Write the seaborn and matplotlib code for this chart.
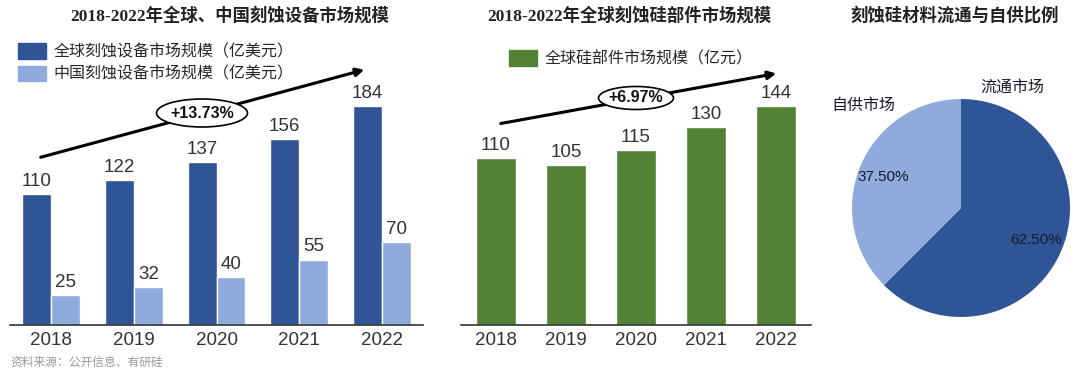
import seaborn as sns
import matplotlib.pyplot as plt
from matplotlib.patches import Ellipse, Patch
import pandas as pd

years = ["2018", "2019", "2020", "2021", "2022"]
global_equip = [110, 122, 137, 156, 184]
china_equip = [25, 32, 40, 55, 70]
silicon_parts = [110, 105, 115, 130, 144]
pie_labels = ["流通市场", "自供市场"]
pie_values = [62.5, 37.5]

title1 = "2018-2022年全球、中国刻蚀设备市场规模"
title2 = "2018-2022年全球刻蚀硅部件市场规模"
title3 = "刻蚀硅材料流通与自供比例"
legend1 = ["全球刻蚀设备市场规模（亿美元）", "中国刻蚀设备市场规模（亿美元）"]
legend2 = "全球硅部件市场规模（亿元）"
cagr1 = "+13.73%"
cagr2 = "+6.97%"
source = "资料来源：公开信息、有研硅"

DARK = "#2F5597"
LIGHT = "#8FAADC"
GREEN = "#548235"

sns.set_theme(style="white")
plt.rcParams['font.family'] = ['Liberation Sans', 'Noto Sans CJK SC', 'DejaVu Sans']
serif = ['Liberation Serif', 'Noto Sans CJK SC']
cjk = ['Noto Sans CJK SC', 'DejaVu Sans']

W, H = 1080, 374
fig = plt.figure(figsize=(W / 100, H / 100), dpi=100)


def px_axes(x0, y_top, w, h):
    return fig.add_axes([x0 / W, (H - y_top - h) / H, w / W, h / H])


def style_bar_axes(ax):
    for s in ["top", "right", "left"]:
        ax.spines[s].set_visible(False)
    ax.spines["bottom"].set_color("#333333")
    ax.spines["bottom"].set_linewidth(1.2)
    ax.set_yticks([])
    ax.set_xlabel("")
    ax.set_ylabel("")
    ax.tick_params(axis="x", length=0, labelsize=13.5, colors="#333333", pad=5)


# ---- left chart
df1 = pd.DataFrame({
    "year": years * 2,
    "value": global_equip + china_equip,
    "series": [legend1[0]] * 5 + [legend1[1]] * 5,
})
ax1 = px_axes(10, 50, 413, 275)
sns.barplot(data=df1, x="year", y="value", hue="series", palette=[DARK, LIGHT],
            width=0.7, ax=ax1, legend=False, saturation=1)
ax1.set_xlim(-0.5, 4.5)
ax1.set_ylim(0, 231)
style_bar_axes(ax1)
for c in ax1.containers:
    ax1.bar_label(c, padding=3, fontsize=13.5, color="#333333")

# ---- middle chart
df2 = pd.DataFrame({"year": years, "value": silicon_parts})
ax2 = px_axes(461, 50, 350, 275)
sns.barplot(data=df2, x="year", y="value", color=GREEN, width=0.57, ax=ax2,
            saturation=1)
ax2.set_xlim(-0.5, 4.5)
ax2.set_ylim(0, 181)
style_bar_axes(ax2)
for c in ax2.containers:
    ax2.bar_label(c, padding=3, fontsize=13.5, color="#333333")

# ---- pie
ax3 = px_axes(852, 99, 218, 218)
wedges, texts, autotexts = ax3.pie(pie_values, labels=pie_labels, colors=[DARK, LIGHT],
                                   startangle=90, counterclock=False,
                                   autopct=lambda p: f"{p:.2f}%",
                                   wedgeprops=dict(linewidth=0),
                                   textprops=dict(fontsize=11, color="#1a1a2a"))
for t in texts:
    t.set_fontfamily(cjk)
    t.set_fontsize(11.5)
    t.set_ha("center")
    t.set_va("center")
texts[0].set_position((0.47, 1.11))
texts[1].set_position((-0.90, 0.94))
autotexts[0].set_position((0.69, -0.29))
autotexts[1].set_position((-0.71, 0.28))
ax3.set_xlim(-1, 1)
ax3.set_ylim(-1, 1)
ax3.set_aspect("equal")

# ---- titles
fig.text(230 / W, 1 - 16 / H, title1, ha="center", va="center", fontsize=12.5,
         fontweight="bold", family=serif, color="#222222")
fig.text(629 / W, 1 - 16 / H, title2, ha="center", va="center", fontsize=12.5,
         fontweight="bold", family=serif, color="#222222")
fig.text(955 / W, 1 - 16 / H, title3, ha="center", va="center", fontsize=12.5,
         fontweight="bold", family=cjk, color="#222222")

# ---- legends
ax1.legend(handles=[Patch(color=DARK), Patch(color=LIGHT)], labels=legend1,
           loc="upper left", bbox_to_anchor=(4 / W, 1 - 29 / H), bbox_transform=fig.transFigure,
           frameon=False, prop=dict(family=cjk, size=11.5), handlelength=1.7,
           handleheight=1.15, labelspacing=0.3, handletextpad=0.5)
ax2.legend(handles=[Patch(color=GREEN)], labels=[legend2],
           loc="upper left", bbox_to_anchor=(495 / W, 1 - 36 / H), bbox_transform=fig.transFigure,
           frameon=False, prop=dict(family=cjk, size=11.5), handlelength=1.7,
           handleheight=1.15, handletextpad=0.5)


# ---- growth arrows
def growth(x0, y0, x1, y1, cx, cy, ew, eh, label):
    fig.patches.append(Ellipse((cx / W, 1 - cy / H), ew / W, eh / H, transform=fig.transFigure,
                               facecolor="white", edgecolor="black", lw=1.2, zorder=5))
    ann = fig.add_artist(plt.Annotation("", xy=(x1 / W, 1 - y1 / H), xytext=(x0 / W, 1 - y0 / H),
                                        xycoords="figure fraction", textcoords="figure fraction",
                                        arrowprops=dict(arrowstyle="-|>", color="black", lw=2.2,
                                                        mutation_scale=12)))
    ann.set_zorder(4)
    fig.text(cx / W, 1 - cy / H, label, ha="center", va="center", fontsize=11.5,
             fontweight="bold", zorder=6, color="#111111")


growth(38, 158, 367, 69, 202, 113, 91, 28, cagr1)
growth(498, 124, 779, 73, 636, 98, 75, 23, cagr2)

fig.text(10 / W, 1 - 362 / H, source, ha="left", va="center", fontsize=8.5,
         family=cjk, color="#999999")

plt.savefig("out.png", dpi=100)
